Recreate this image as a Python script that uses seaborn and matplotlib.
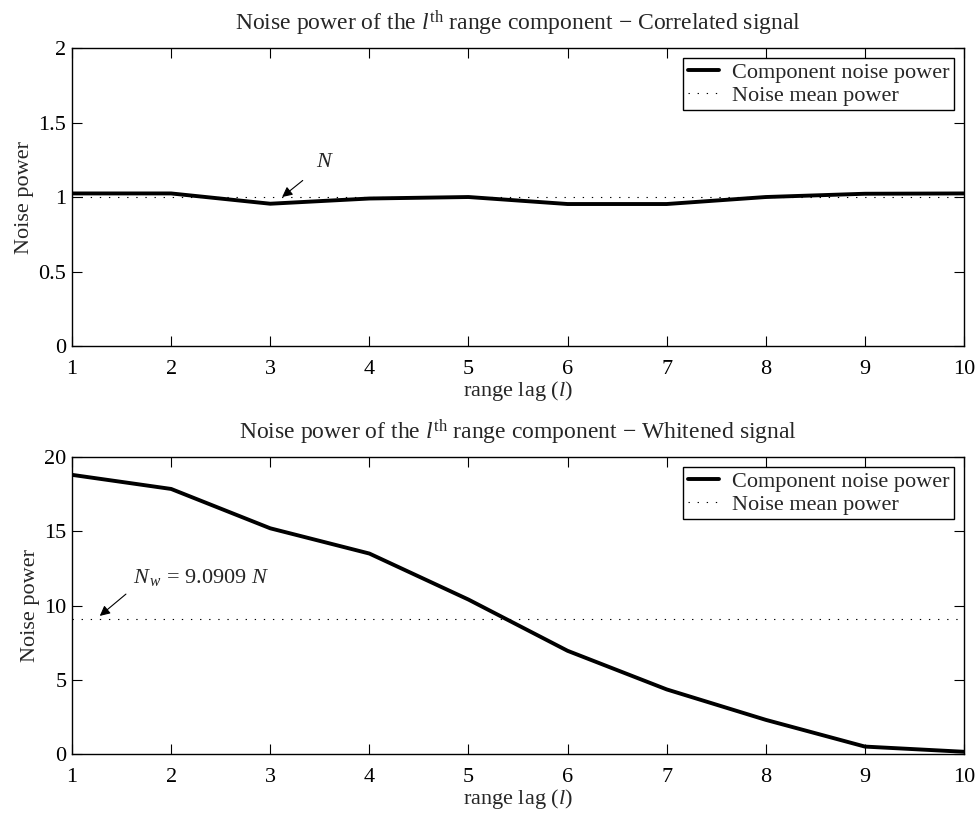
import numpy as np
import pandas as pd
import matplotlib
matplotlib.use("Agg")
import matplotlib.pyplot as plt
import seaborn as sns

# ---- data ----
lags = [1, 2, 3, 4, 5, 6, 7, 8, 9, 10]
correlated_power = [1.024, 1.024, 0.955, 0.99, 1.0, 0.953, 0.953, 1.0, 1.022, 1.024]
correlated_mean = 1.0
whitened_power = [18.8, 17.85, 15.2, 13.5, 10.4, 6.95, 4.35, 2.3, 0.5, 0.15]
whitened_mean = 9.0909
top_yticks = [0, 0.5, 1, 1.5, 2]
top_yticklabels = ["0", "0.5", "1", "1.5", "2"]
bottom_yticks = [0, 5, 10, 15, 20]
series_names = ["Component noise power", "Noise mean power"]

sns.set_style("white")
plt.rcParams["font.family"] = ["Liberation Serif", "DejaVu Serif"]
plt.rcParams["mathtext.fontset"] = "custom"
plt.rcParams["mathtext.rm"] = "Liberation Serif"
plt.rcParams["mathtext.it"] = "Liberation Serif:italic"
plt.rcParams["axes.unicode_minus"] = True

FS = 16
TFS = 17
fig = plt.figure(figsize=(9.8, 8.17), dpi=100)
ax1 = fig.add_axes([0.0735, 0.5765, 0.9102, 0.3647])
ax2 = fig.add_axes([0.0735, 0.0771, 0.9102, 0.3635])


def draw(ax, vals, mean, title, ylim, yticks, yticklabels):
    df = pd.DataFrame({"lag": lags, "power": vals})
    dfm = pd.DataFrame({"lag": lags, "power": [mean] * len(lags)})
    sns.lineplot(data=df, x="lag", y="power", ax=ax, color="black",
                 linewidth=2.8, label=series_names[0])
    sns.lineplot(data=dfm, x="lag", y="power", ax=ax, color="black",
                 linewidth=0.8, linestyle=(0, (1.2, 7)), label=series_names[1])
    ax.set_xlim(1, 10)
    ax.set_ylim(*ylim)
    ax.set_xticks(lags)
    ax.set_xticklabels([str(v) for v in lags], fontsize=FS)
    ax.set_yticks(yticks)
    ax.set_yticklabels(yticklabels, fontsize=FS)
    ax.tick_params(direction="in", length=7, width=0.8, top=True, right=True,
                   bottom=True, left=True, colors="black")
    ax.tick_params(axis="x", pad=10)
    ax.tick_params(axis="y", pad=4)
    for s in ax.spines.values():
        s.set_visible(True)
        s.set_color("black")
        s.set_linewidth(1.0)
    ax.set_xlabel(r"range lag ($\mathit{l}$)", fontsize=FS, labelpad=0)
    ax.set_ylabel("Noise power", fontsize=FS, labelpad=3)
    ax.set_title(title, fontsize=TFS, pad=13)
    leg = ax.legend(loc="upper right", fontsize=FS, frameon=True, fancybox=False,
                    edgecolor="black", framealpha=1, borderaxespad=0.45,
                    handlelength=1.4, labelspacing=0.1, borderpad=0.2,
                    handletextpad=0.6)
    leg.get_frame().set_linewidth(1.0)


draw(ax1, correlated_power, correlated_mean,
     r"Noise power of the $\mathit{l}^{\mathrm{th}}$ range component $-$ Correlated signal",
     (0, 2), top_yticks, top_yticklabels)
draw(ax2, whitened_power, whitened_mean,
     r"Noise power of the $\mathit{l}^{\mathrm{th}}$ range component $-$ Whitened signal",
     (0, 20), bottom_yticks, [str(v) for v in bottom_yticks])

ax1.annotate(r"$N$", xy=(3.12, 1.0), xytext=(3.55, 1.23), fontsize=FS,
             ha="center", va="center",
             arrowprops=dict(arrowstyle="-|>", color="black", lw=0.8,
                             shrinkA=9, shrinkB=0, mutation_scale=15))
ax2.annotate(r"$N_{\,w}$ = 9.0909 $N$", xy=(1.28, 9.3), xytext=(1.62, 11.9),
             fontsize=FS, ha="left", va="center",
             arrowprops=dict(arrowstyle="-|>", color="black", lw=0.8,
                             shrinkA=4, shrinkB=0, mutation_scale=15,
                             relpos=(0, 0)))

fig.savefig("out.png", dpi=100)
